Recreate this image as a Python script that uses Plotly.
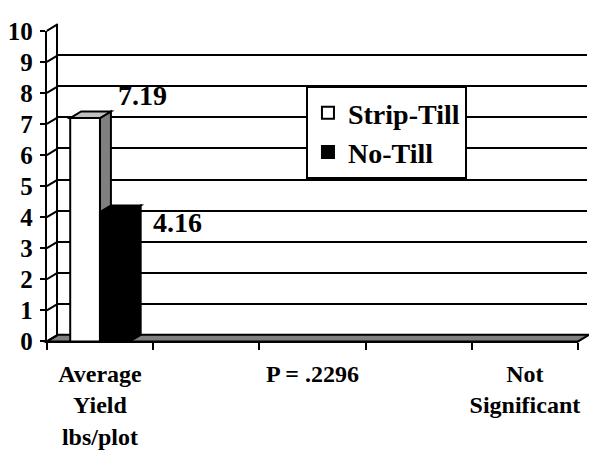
import plotly.graph_objects as go

# Category slots along the floor (labels only on alternate slots)
categories = ["Average<br>Yield<br>lbs/plot", "", "P = .2296", "", "Not<br>Significant"]
series_names = ["Strip-Till", "No-Till"]
strip_till = [7.19]
no_till = [4.16]
y_ticks = list(range(0, 11))

W, H = 589, 450
FONT = "Liberation Serif"


def bold(s):
    return f"<b>{s}</b>" if s else s


# Front plane of the 3-D box in pixels, plus the depth offset of the back wall
FRONT_L, FRONT_R, FRONT_B, FRONT_T = 47, 580, 351, 19
DEPTH_X, DEPTH_Y = 11, 7
N_SLOTS = len(categories)
Y_MAX = 10
BAR_W = 0.28


def px(x):
    return x / W


def py(y):
    return 1 - y / H


fx_dom = [px(FRONT_L), px(FRONT_R)]
fy_dom = [py(FRONT_B), py(FRONT_T)]
bx_dom = [px(FRONT_L + DEPTH_X), min(1.0, px(FRONT_R + DEPTH_X))]
by_dom = [py(FRONT_B - DEPTH_Y), py(FRONT_T - DEPTH_Y)]

# depth expressed in the units of the front axes
ddx = DEPTH_X / ((FRONT_R - FRONT_L) / N_SLOTS)
ddy = DEPTH_Y / ((FRONT_B - FRONT_T) / Y_MAX)

fig = go.Figure()

# back wall subplot (gridlines only)
fig.add_trace(go.Scatter(x=[0], y=[0], mode="markers", marker=dict(opacity=0),
                         showlegend=False, hoverinfo="skip", xaxis="x", yaxis="y"))

bar_specs = [
    (series_names[0], strip_till, -BAR_W, "white", "#808080", "#C0C0C0"),
    (series_names[1], no_till, 0.0, "black", "black", "black"),
]
shapes = []

# floor slab
fl, fr = FRONT_L, FRONT_R
floor_path = (f"M{px(fl)},{py(FRONT_B)} L{px(fr)},{py(FRONT_B)} "
              f"L{px(fr + DEPTH_X)},{py(FRONT_B - DEPTH_Y)} "
              f"L{px(fl + DEPTH_X)},{py(FRONT_B - DEPTH_Y)} Z")
shapes.append(dict(type="path", xref="paper", yref="paper", path=floor_path,
                   fillcolor="#808080", line=dict(color="black", width=2), layer="below"))

for name, vals, off, front_c, side_c, top_c in bar_specs:
    fig.add_trace(go.Bar(x=list(range(len(vals))), y=vals, name=bold(name), width=BAR_W, offset=off,
                         marker=dict(color=front_c, line=dict(color="black", width=2)),
                         xaxis="x2", yaxis="y2", hoverinfo="skip"))
    for i, v in enumerate(vals):
        x0 = i + off
        x1 = x0 + BAR_W
        side = (f"M{x1},0 L{x1},{v} L{x1 + ddx},{v + ddy} L{x1 + ddx},{ddy} Z")
        top = (f"M{x0},{v} L{x0 + ddx},{v + ddy} L{x1 + ddx},{v + ddy} L{x1},{v} Z")
        shapes.append(dict(type="path", xref="x2", yref="y2", path=side, fillcolor=side_c,
                           line=dict(color="black", width=2), layer="between"))
        shapes.append(dict(type="path", xref="x2", yref="y2", path=top, fillcolor=top_c,
                           line=dict(color="black", width=2), layer="between"))

# side wall: diagonals joining back gridlines to the front axis
for v in y_ticks:
    yb = by_dom[0] + v / Y_MAX * (by_dom[1] - by_dom[0])
    yf = fy_dom[0] + v / Y_MAX * (fy_dom[1] - fy_dom[0])
    shapes.append(dict(type="line", xref="paper", yref="paper",
                       x0=bx_dom[0], y0=yb, x1=fx_dom[0], y1=yf,
                       line=dict(color="black", width=2), layer="above"))

# value labels
label_font = dict(family=FONT, size=28, color="black")
annotations = [
    dict(x=-BAR_W / 2, y=strip_till[0], xref="x2", yref="y2", text=bold(f"{strip_till[0]:.2f}"),
         showarrow=False, xshift=57, yshift=23, font=label_font),
    dict(x=BAR_W / 2, y=no_till[0], xref="x2", yref="y2", text=bold(f"{no_till[0]:.2f}"),
         showarrow=False, xshift=63, yshift=-10, font=label_font),
]

fig.update_layout(
    width=W, height=H,
    margin=dict(l=0, r=0, t=0, b=0),
    paper_bgcolor="white",
    plot_bgcolor="rgba(0,0,0,0)",
    font=dict(family=FONT, color="black"),
    showlegend=True,
    legend=dict(x=px(307), y=py(78), xanchor="left", yanchor="top",
                bgcolor="white", bordercolor="black", borderwidth=2,
                font=dict(family=FONT, size=28, color="black"),
                tracegroupgap=0, itemwidth=30),
    xaxis=dict(domain=bx_dom, range=[-0.5, N_SLOTS - 0.5], anchor="y",
               showgrid=False, zeroline=False, showticklabels=False, ticks=""),
    yaxis=dict(domain=by_dom, range=[0, Y_MAX], anchor="x", tickvals=y_ticks,
               showgrid=True, gridcolor="black", gridwidth=2, zeroline=False,
               showline=True, linecolor="black", linewidth=2,
               showticklabels=False, ticks=""),
    xaxis2=dict(domain=fx_dom, range=[-0.5, N_SLOTS - 0.5], anchor="y2",
                tickvals=list(range(N_SLOTS)), ticktext=[bold(c) for c in categories], ticks="",
                tickfont=dict(family=FONT, size=24, color="black"),
                showgrid=False, zeroline=False,
                showline=True, linecolor="black", linewidth=2,
                minor=dict(tickvals=[i - 0.5 for i in range(N_SLOTS + 1)], ticks="outside",
                           ticklen=7, tickwidth=2, tickcolor="black", showgrid=False),
                ticklabelstandoff=10),
    yaxis2=dict(domain=fy_dom, range=[0, Y_MAX], anchor="x2", tickvals=y_ticks,
                ticktext=[bold(str(v)) for v in y_ticks],
                ticks="outside", ticklen=5, tickwidth=2, tickcolor="black",
                tickfont=dict(family=FONT, size=25, color="black"),
                showgrid=False, zeroline=False,
                showline=True, linecolor="black", linewidth=2, ticklabelstandoff=2),
    shapes=shapes,
    annotations=annotations,
)

fig.write_html("out.html")
